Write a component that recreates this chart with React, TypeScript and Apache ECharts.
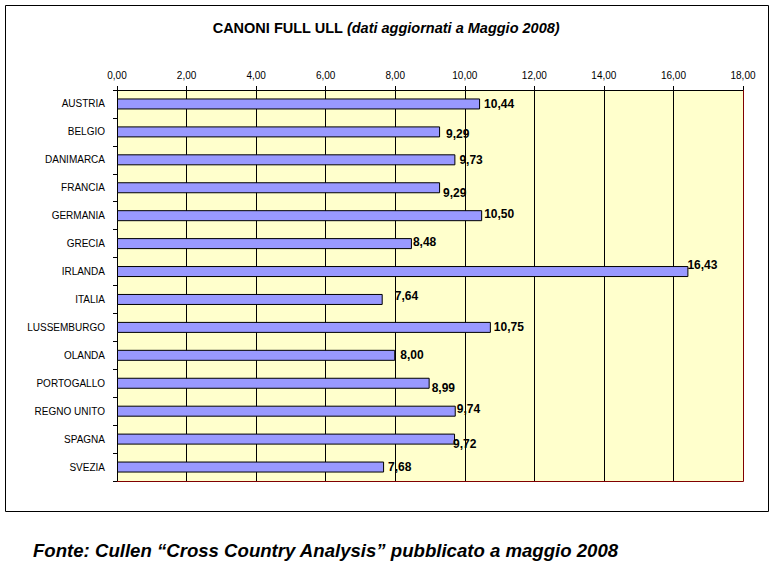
import React, { useEffect, useRef } from "react";
import * as echarts from "echarts";

const categories = [
  "AUSTRIA",
  "BELGIO",
  "DANIMARCA",
  "FRANCIA",
  "GERMANIA",
  "GRECIA",
  "IRLANDA",
  "ITALIA",
  "LUSSEMBURGO",
  "OLANDA",
  "PORTOGALLO",
  "REGNO UNITO",
  "SPAGNA",
  "SVEZIA",
];
const values = [10.44, 9.29, 9.73, 9.29, 10.5, 8.48, 16.43, 7.64, 10.75, 8.0, 8.99, 9.74, 9.72, 7.68];
const axisMin = 0;
const axisMax = 18;
const axisStep = 2;
const titleMain = "CANONI FULL ULL ";
const titleSub = "(dati aggiornati a Maggio 2008)";
const footer = "Fonte: Cullen \u201cCross Country Analysis\u201d pubblicato a maggio 2008";

const fmt = (v: number) => v.toFixed(2).replace(".", ",");

export default function App() {
  const ref = useRef<HTMLDivElement>(null);
  useEffect(() => {
    if (!ref.current) return;
    const chart = echarts.init(ref.current, undefined, { renderer: "svg" });
    const font = "Liberation Sans, Arial, sans-serif";
    const gl = 117, gt = 90, gw = 626, gh = 391;
    // label nudges replicating the reference's hand-placed data labels
    const nudges: number[][] = [
      [0, 0], [2, 2], [0, 0], [-1, 5], [-2, -2], [-3, -2], [-5, -7],
      [8, -3], [-1, 0], [1, 0], [-2, 5], [-3, -2], [-6, 5], [0, 0],
    ];
    const seriesData = values.map((v, i) => ({
      value: v,
      label: { offset: nudges[i] || [0, 0] },
    }));
    chart.setOption({
      animation: false,
      backgroundColor: "#ffffff",
      textStyle: { fontFamily: font },
      grid: {
        left: gl,
        top: gt,
        width: gw,
        height: gh,
        show: true,
        backgroundColor: "#FFFFCC",
        borderWidth: 0,
      },
      xAxis: {
        type: "value",
        position: "top",
        min: axisMin,
        max: axisMax,
        interval: axisStep,
        axisLine: { show: true, lineStyle: { color: "#000", width: 1 } },
        axisTick: { show: true, length: 4, inside: false, lineStyle: { color: "#000" } },
        axisLabel: {
          color: "#000",
          fontSize: 10,
          fontFamily: font,
          margin: 10,
          formatter: (v: number) => fmt(v),
        },
        splitLine: { show: true, lineStyle: { color: "#000", width: 1 } },
      },
      yAxis: {
        type: "category",
        data: categories,
        inverse: true,
        axisLine: { show: true, lineStyle: { color: "#000", width: 1 } },
        axisTick: { show: true, length: 4, lineStyle: { color: "#000" } },
        axisLabel: { color: "#000", fontSize: 10, fontFamily: font, margin: 12 },
        splitLine: { show: false },
      },
      series: [
        {
          type: "bar",
          data: seriesData,
          barWidth: 11,
          itemStyle: { color: "#9999FF", borderColor: "#000", borderWidth: 1 },
          label: {
            show: true,
            position: "right",
            distance: 4,
            color: "#000",
            fontSize: 12,
            fontWeight: "bold",
            fontFamily: font,
            formatter: (p: any) => fmt(p.value),
          },
          z: 3,
        },
      ],
      graphic: [
        {
          type: "rect",
          shape: { x: 5.5, y: 5.5, width: 763, height: 506 },
          style: { fill: "none", stroke: "#000", lineWidth: 1 },
          z: 100,
          silent: true,
        },
        {
          type: "line",
          shape: { x1: gl + gw + 0.5, y1: gt, x2: gl + gw + 0.5, y2: gt + gh + 0.5 },
          style: { stroke: "#800000", lineWidth: 1 },
          z: 100,
        },
        {
          type: "line",
          shape: { x1: gl, y1: gt + gh + 0.5, x2: gl + gw + 0.5, y2: gt + gh + 0.5 },
          style: { stroke: "#800000", lineWidth: 1 },
          z: 100,
        },
        {
          type: "text",
          x: 386,
          y: 28,
          style: {
            text: "{a|" + titleMain + "}{b|" + titleSub + "}",
            align: "center",
            verticalAlign: "middle",
            rich: {
              a: { fontSize: 14.5, fontWeight: "bold", fontFamily: font, fill: "#000" },
              b: { fontSize: 14.5, fontWeight: "bold", fontStyle: "italic", fontFamily: font, fill: "#000" },
            },
          },
          z: 100,
        },
        {
          type: "text",
          x: 33,
          y: 550,
          style: {
            text: footer,
            fontSize: 18.6,
            fontWeight: "bold",
            fontStyle: "italic",
            fontFamily: font,
            fill: "#000",
            verticalAlign: "middle",
          },
          z: 100,
        },
      ],
    });
    return () => chart.dispose();
  }, []);
  return (
    <div
      ref={ref}
      style={{ position: "fixed", left: 0, top: 0, width: 774, height: 566 }}
    />
  );
}
